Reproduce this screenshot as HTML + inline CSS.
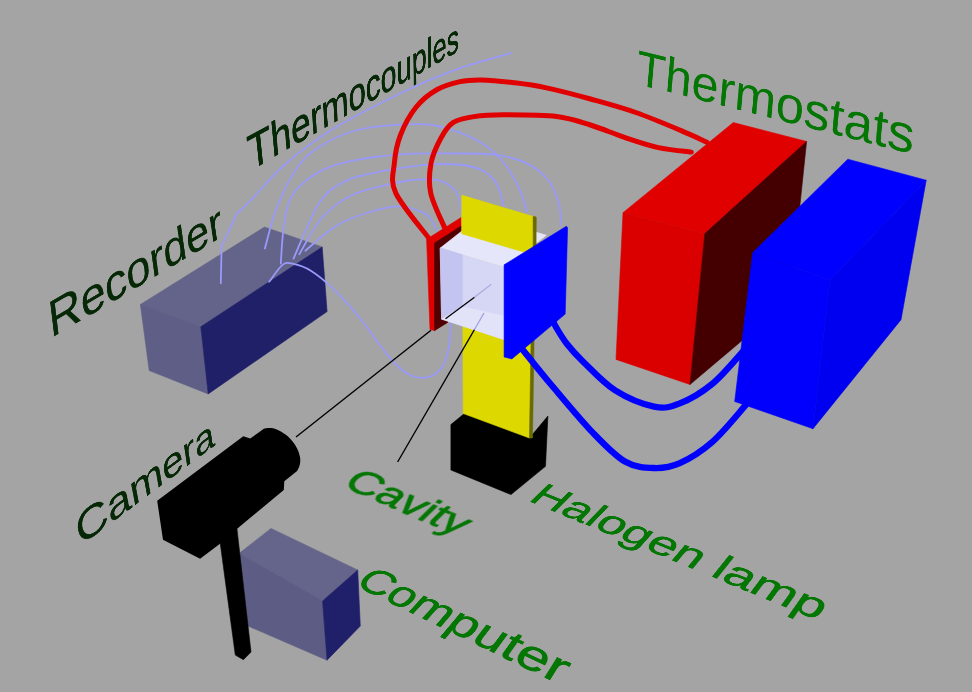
<!DOCTYPE html>
<html><head><meta charset="utf-8"><style>
html,body{margin:0;padding:0;background:#a4a4a4;}
#wrap{position:relative;width:972px;height:692px;overflow:hidden;}
#wrap>svg{position:absolute;left:0;top:0;display:block;}
svg.t{transform-origin:0 0;overflow:visible;}
text{font-family:"Liberation Sans",sans-serif;}
</style></head><body>
<div id="wrap">
<svg width="972" height="692" viewBox="0 0 972 692">
<rect width="972" height="692" fill="#a4a4a4"/>
<polygon points="264.5,227.0 322.2,247.0 200.8,326.7 140.4,304.5" fill="#64648a" stroke="#64648a" stroke-width="0.6" stroke-linejoin="round"/>
<polygon points="140.4,304.5 200.8,326.7 208.2,393.9 149.2,370.6" fill="#5e5e86" stroke="#5e5e86" stroke-width="0.6" stroke-linejoin="round"/>
<polygon points="200.8,326.7 322.2,247.0 327.1,311.6 208.2,393.9" fill="#202068" stroke="#202068" stroke-width="0.6" stroke-linejoin="round"/>
<path d="M220.8,283.2 L221.6,246.4 L236.7,213.8 L236.7,213.8 C238.9,211.7 242.0,209.3 250.0,201.1 C258.0,192.9 271.1,176.5 284.7,164.7 C298.3,152.8 312.3,141.9 331.5,130.0 C350.7,118.1 378.9,103.7 400.0,93.5 C421.1,83.3 439.2,75.7 457.8,68.9 C476.4,62.2 502.4,55.6 511.3,53.0" fill="none" stroke="#9a9afa" stroke-width="1.8" stroke-linecap="round" stroke-linejoin="round"/>
<path d="M264.9,248.5 C266.8,242.1 271.2,222.3 276.0,209.8 C280.8,197.3 286.8,183.5 293.4,173.4 C300.0,163.3 305.2,156.3 315.9,149.1 C326.6,141.9 340.1,134.2 357.5,130.0 C374.9,125.8 404.9,124.3 420.0,124.1 C435.1,123.9 438.8,126.2 448.2,128.8 C457.6,131.5 467.9,135.3 476.3,140.0 C484.8,144.7 492.0,149.5 498.9,157.0 C505.8,164.5 513.0,176.0 517.7,185.1 C522.4,194.2 525.5,207.0 527.0,211.4" fill="none" stroke="#9a9afa" stroke-width="1.8" stroke-linecap="round" stroke-linejoin="round"/>
<path d="M280.8,263.7 C281.2,258.6 281.8,243.2 283.0,233.4 C284.2,223.6 285.5,212.3 288.1,204.6 C290.7,196.9 292.8,193.0 298.6,187.2 C304.4,181.4 313.6,174.4 322.8,169.9 C332.0,165.4 341.1,162.9 354.0,160.3 C366.9,157.7 382.7,155.4 400.0,154.3 C417.3,153.2 441.9,153.4 457.8,153.5 C473.7,153.6 483.9,153.2 495.1,154.7 C506.3,156.2 516.4,158.5 525.2,162.6 C534.0,166.7 542.1,172.6 547.7,179.5 C553.3,186.4 556.8,196.4 559.0,203.9 C561.2,211.4 560.5,221.2 560.8,224.6" fill="none" stroke="#9a9afa" stroke-width="1.8" stroke-linecap="round" stroke-linejoin="round"/>
<path d="M293.5,258.6 C297.8,249.3 311.0,215.6 319.4,202.8 C327.8,190.0 334.9,186.9 343.6,182.0 C352.3,177.1 358.7,176.2 371.4,173.4 C384.1,170.6 405.6,166.9 420.0,165.4 C434.4,163.9 447.3,163.7 457.6,164.5 C467.9,165.3 475.8,167.3 482.0,170.1 C488.2,172.9 492.0,177.3 495.1,181.4 C498.2,185.5 499.4,190.4 500.8,194.5 C502.2,198.6 503.1,203.9 503.6,205.8" fill="none" stroke="#9a9afa" stroke-width="1.8" stroke-linecap="round" stroke-linejoin="round"/>
<path d="M299.3,254.3 C303.2,248.0 313.7,226.7 322.8,216.7 C331.9,206.7 341.1,200.0 354.0,194.2 C366.9,188.4 389.0,184.4 400.0,182.0 C411.0,179.6 413.5,179.8 420.0,179.5 C426.5,179.2 433.2,178.8 438.8,180.4 C444.4,182.0 450.4,185.6 453.8,188.9 C457.2,192.2 458.3,196.3 459.4,200.1 C460.5,203.8 460.2,209.5 460.4,211.4" fill="none" stroke="#9a9afa" stroke-width="1.8" stroke-linecap="round" stroke-linejoin="round"/>
<path d="M305.4,250.7 C310.6,246.5 325.7,231.9 336.7,225.4 C347.7,218.9 360.8,214.7 371.4,211.5 C381.9,208.3 391.9,206.3 400.0,206.3 C408.1,206.3 415.1,209.6 420.0,211.4 C424.9,213.2 426.6,213.9 429.4,217.0 C432.2,220.1 435.6,228.0 436.9,230.2" fill="none" stroke="#9a9afa" stroke-width="1.8" stroke-linecap="round" stroke-linejoin="round"/>
<path d="M269.2,281.8 C271.4,279.0 278.4,268.1 282.3,265.1 C286.2,262.1 287.6,262.7 292.4,263.7 C297.2,264.7 304.5,266.8 311.2,270.9 C317.9,275.0 324.9,280.8 332.8,288.3 C340.7,295.8 349.1,304.8 358.3,316.0 C367.5,327.2 379.6,345.7 387.8,355.3 C396.0,364.9 400.9,370.0 407.4,373.7 C413.9,377.4 421.3,378.4 427.0,377.4 C432.7,376.4 438.1,372.9 441.8,367.6 C445.5,362.3 447.8,352.9 449.2,345.5 C450.6,338.1 450.2,327.1 450.4,323.4" fill="none" stroke="#9a9afa" stroke-width="1.8" stroke-linecap="round" stroke-linejoin="round"/>
<polygon points="733.3,122.6 806.6,141.4 704.8,233.6 623.0,212.7" fill="#e00000" stroke="#e00000" stroke-width="0.6" stroke-linejoin="round"/>
<polygon points="623.0,212.7 704.8,233.6 690.0,384.5 616.0,359.4" fill="#da0000" stroke="#da0000" stroke-width="0.6" stroke-linejoin="round"/>
<polygon points="704.8,233.6 806.6,141.4 790.0,300.0 690.0,384.5" fill="#440000" stroke="#440000" stroke-width="0.6" stroke-linejoin="round"/>
<polygon points="847.8,159.2 926.2,180.2 830.0,280.0 752.7,252.7" fill="#0000ff" stroke="#0000ff" stroke-width="0.6" stroke-linejoin="round"/>
<polygon points="752.7,252.7 830.0,280.0 813.0,428.7 734.7,401.5" fill="#0000fc" stroke="#0000fc" stroke-width="0.6" stroke-linejoin="round"/>
<polygon points="830.0,280.0 926.2,180.2 901.0,319.7 813.0,428.7" fill="#0000f0" stroke="#0000f0" stroke-width="0.6" stroke-linejoin="round"/>
<path d="M429.0,238.4 C423.4,230.8 401.5,205.5 395.7,192.9 C389.9,180.3 393.6,172.6 394.4,162.9 C395.2,153.2 396.9,144.3 400.5,135.0 C404.1,125.7 410.1,114.6 416.2,107.0 C422.3,99.4 429.9,93.7 437.2,89.5 C444.5,85.3 452.7,83.2 460.0,81.6 C467.3,80.0 472.2,79.8 480.9,79.9 C489.6,80.1 501.7,81.2 512.4,82.5 C523.1,83.8 532.3,84.8 545.3,87.6 C558.3,90.3 575.4,94.8 590.5,99.0 C605.6,103.2 620.7,107.2 635.8,112.5 C650.9,117.8 669.2,125.6 681.1,130.6 C693.0,135.5 702.7,140.3 707.0,142.2" fill="none" stroke="#e00000" stroke-width="5" stroke-linecap="round" stroke-linejoin="round"/>
<path d="M444.7,227.9 C442.4,222.1 433.0,203.7 430.7,192.9 C428.4,182.1 429.4,172.0 431.1,162.9 C432.8,153.8 437.1,145.2 440.7,138.5 C444.3,131.8 447.4,126.4 453.0,122.7 C458.6,119.0 465.6,117.9 474.0,116.6 C482.4,115.3 489.9,114.8 503.7,114.8 C517.5,114.8 542.1,114.8 556.6,116.5 C571.1,118.2 579.2,121.5 590.5,125.0 C601.8,128.5 613.2,133.6 624.5,137.4 C635.8,141.2 647.3,145.2 658.4,147.6 C669.5,150.0 685.8,151.3 691.3,152.1" fill="none" stroke="#e00000" stroke-width="5" stroke-linecap="round" stroke-linejoin="round"/>
<polygon points="450.9,424.6 464.4,413.5 529.5,438.1 547.9,416.0 545.5,466.3 511.0,494.6 450.9,470.0" fill="#000000" stroke="#000000" stroke-width="0.6" stroke-linejoin="round"/>
<polygon points="462.4,195.4 533.0,217.0 529.5,438.1 463.2,413.5" fill="#dcd800" stroke="#dcd800" stroke-width="0.6" stroke-linejoin="round"/>
<polygon points="533.0,217.0 536.0,218.0 532.5,438.0 529.5,438.1" fill="#6a6a00" stroke="#6a6a00" stroke-width="0.6" stroke-linejoin="round"/>
<polygon points="426.6,239.3 461.2,217.4 461.2,300.0 447.4,321.4 434.5,330.6 430.0,329.5" fill="#e00000" stroke="#e00000" stroke-width="0.6" stroke-linejoin="round"/>
<polygon points="434.5,243.0 461.2,226.0 461.2,300.0 447.3,322.7 434.5,330.6" fill="#500000" stroke="#500000" stroke-width="0.6" stroke-linejoin="round"/>
<polygon points="440.2,248.1 481.3,215.7 546.3,235.2 505.2,267.6" fill="#e6e6fa" stroke="#e6e6fa" stroke-width="0.6" stroke-linejoin="round"/>
<polygon points="461.7,195.4 533.2,216.5 533.2,254.8 461.7,233.8" fill="#dcd800" stroke="#dcd800" stroke-width="0.6" stroke-linejoin="round"/>
<polygon points="533.2,216.5 536.1,216.9 536.1,246.0 533.2,250.0" fill="#6a6a00" stroke="#6a6a00" stroke-width="0.6" stroke-linejoin="round"/>
<polygon points="440.2,248.1 505.2,267.6 505.2,339.9 441.6,319.1" fill="#d6d6f5" stroke="#d6d6f5" stroke-width="0.6" stroke-linejoin="round"/>
<polygon points="440.2,248.1 462.4,254.8 462.4,306.8 441.6,319.1" fill="#c4c4f0" stroke="#c4c4f0" stroke-width="0.6" stroke-linejoin="round"/>
<polygon points="441.6,319.1 462.4,306.8 505.2,316.3 505.2,339.9" fill="#e2e2f8" stroke="#e2e2f8" stroke-width="0.6" stroke-linejoin="round"/>
<polygon points="504.1,264.8 566.4,226.2 567.6,227.8 565.2,314.1 511.9,358.9 504.1,357.0" fill="#0000ff" stroke="#0000ff" stroke-width="0.6" stroke-linejoin="round"/>
<path d="M553.0,320.0 C553.4,321.0 553.1,322.0 555.4,326.0 C557.7,330.0 562.4,338.1 567.0,344.0 C571.6,349.9 574.9,353.7 582.9,361.4 C590.9,369.1 603.4,382.9 615.2,390.4 C627.1,397.9 643.2,404.4 654.0,406.6 C664.8,408.8 670.1,407.2 679.8,403.4 C689.5,399.6 701.9,392.4 712.1,384.0 C722.3,375.6 735.6,359.6 741.2,353.3 C746.9,347.0 745.2,347.2 746.0,346.0" fill="none" stroke="#0000ff" stroke-width="6.3" stroke-linecap="round" stroke-linejoin="round"/>
<path d="M516.0,344.0 C516.9,344.7 515.7,341.7 521.5,348.4 C527.3,355.1 538.8,370.0 550.6,384.0 C562.5,398.0 580.2,419.5 592.6,432.4 C605.0,445.3 614.7,455.6 624.9,461.5 C635.1,467.4 644.9,467.7 654.0,468.0 C663.1,468.3 670.1,467.4 679.8,463.1 C689.5,458.8 701.3,451.5 712.1,442.1 C722.9,432.7 738.4,413.5 744.4,406.6 C750.4,399.8 747.4,401.9 748.0,401.0" fill="none" stroke="#0000ff" stroke-width="6.3" stroke-linecap="round" stroke-linejoin="round"/>
<line x1="296" y1="437" x2="431" y2="330.2" stroke="#000" stroke-width="1.4"/>
<line x1="445.5" y1="318.8" x2="474.5" y2="297.3" stroke="#000" stroke-width="1.3"/>
<line x1="397.6" y1="462" x2="474.5" y2="329.5" stroke="#000" stroke-width="1.4"/>
<line x1="491.4" y1="284.1" x2="474.5" y2="297.3" stroke="#a8a8d8" stroke-width="1.2"/>
<line x1="484" y1="313" x2="474.5" y2="329.5" stroke="#a0a0e0" stroke-width="1.3"/>
<polygon points="271.0,528.4 357.7,570.0 322.5,601.0 239.0,553.5" fill="#65658b" stroke="#65658b" stroke-width="0.6" stroke-linejoin="round"/>
<polygon points="239.0,553.5 322.5,601.0 327.0,660.2 248.0,626.0" fill="#5c5c84" stroke="#5c5c84" stroke-width="0.6" stroke-linejoin="round"/>
<polygon points="322.5,601.0 357.7,570.0 360.3,626.0 327.0,660.2" fill="#20206a" stroke="#20206a" stroke-width="0.6" stroke-linejoin="round"/>
<polygon points="219.8,540.0 236.5,525.0 251.0,652.1 243.4,659.7 235.3,655.1" fill="#000" stroke="#000" stroke-width="0.6" stroke-linejoin="round"/>
<path d="M157.2,500.8 L243.3,436.2 L250.2,438.5 L260.1,431.6 C263,429 265,428 268.2,428.1 C272,428 274,428.5 276.2,429.2 C280,431 283,432.5 285.5,434.5 C289,437 292,440.5 294.7,444.3 C297,448 298.6,451 299.4,454.7 C300.5,458 300.5,461 299.9,463.9 C299.5,466 298.5,468.5 297.1,470.9 L284.3,481.3 L283.8,490 L236.5,529.3 L220,543.8 L200.1,558.7 L163,539.8 Z" fill="#000"/>
</svg>
<svg class="t" width="800" height="200" style="transform:matrix3d(0.4538915,-0.20778791,0,0.00016826324,0.05435657,0.46584548,0,-8.2839141e-05,0,0,1,0,41.795828,264.59512,0,1)"><text x="0" y="150" font-size="100" fill="#072807" stroke="#072807" stroke-width="0.5" stroke-linejoin="round">Recorder</text></svg>
<svg class="t" width="800" height="200" style="transform:matrix3d(0.4983234,-0.16176464,0,0.00039559459,0.12603339,0.54344188,0,0.00029038041,0,0,1,0,241.42481,96.928853,0,1)"><text x="0" y="150" font-size="100" fill="#072807" stroke="#072807" stroke-width="1.5" stroke-linejoin="round">Thermocouples</text></svg>
<svg class="t" width="800" height="200" style="transform:matrix3d(0.38746284,0.10811811,0,-0.00012385915,-0.033539877,0.48595044,0,1.2258858e-05,0,0,1,0,641.53682,10.8498,0,1)"><text x="0" y="150" font-size="100" fill="#047604" stroke="#047604" stroke-width="0" stroke-linejoin="round">Thermostats</text></svg>
<svg class="t" width="800" height="200" style="transform:matrix3d(0.48804979,-0.11520425,0,0.00041290032,0.12125739,0.57485021,0,0.00028841801,0,0,1,0,64.719616,484.11271,0,1)"><text x="0" y="150" font-size="100" fill="#072807" stroke="#072807" stroke-width="0.5" stroke-linejoin="round">Camera</text></svg>
<svg class="t" width="800" height="200" style="transform:matrix3d(0.32869672,0.09226921,0,-0.00015380341,-0.38871342,0.13052226,0,-0.00024265083,0,0,1,0,566.30486,462.55349,0,1)"><text x="0" y="150" font-size="100" fill="#047604" stroke="#047604" stroke-width="1.5" stroke-linejoin="round">Halogen lamp</text></svg>
<svg class="t" width="800" height="200" style="transform:matrix3d(0.41930372,0.17932402,0,0,-0.27198776,0.26639336,0,0,0,0,1,0,381.79426,446.3966,0,1)"><text x="0" y="150" font-size="100" fill="#047604" stroke="#047604" stroke-width="2" stroke-linejoin="round">Cavity</text></svg>
<svg class="t" width="800" height="200" style="transform:matrix3d(0.24036713,-0.029288082,0,-0.00035135379,-0.44145352,-0.0072302805,0,-0.00045947406,0,0,1,0,395.44488,545.73875,0,1)"><text x="0" y="150" font-size="100" fill="#047604" stroke="#047604" stroke-width="1.5" stroke-linejoin="round">Computer</text></svg>
</div>
</body></html>
